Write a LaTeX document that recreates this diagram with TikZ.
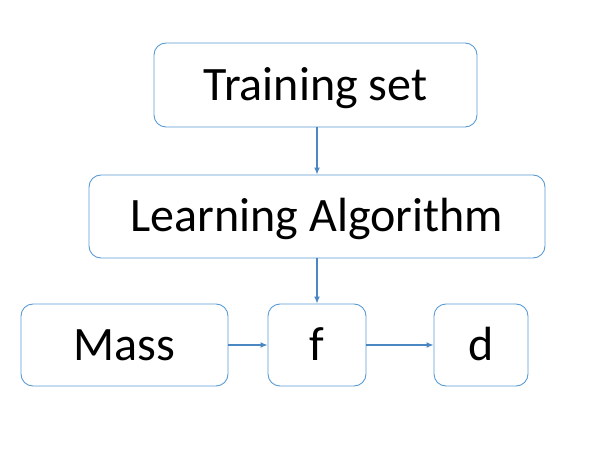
\documentclass[tikz,border=0pt]{standalone}
\usepackage{fontspec}
\setmainfont{Carlito}
\usepackage{tikz}
\usetikzlibrary{arrows.meta}
\definecolor{boxline}{RGB}{91,155,213}
\definecolor{linkline}{RGB}{75,135,195}

\begin{document}
\begin{tikzpicture}[x=1pt,y=-1pt,
   box/.style={draw=boxline,line width=0.9pt,rounded corners=12pt,inner sep=0pt,
     font=\fontsize{48}{52}\selectfont,text height=34pt,text depth=3pt},
   link/.style={draw=linkline,line width=1.3pt,-{Latex[length=7pt,width=6pt]}}]
\useasboundingbox (0,0) rectangle (608,449);
\node[box,minimum width=323pt,minimum height=84pt] (train) at (315.5,85) {Training set};
\node[box,minimum width=456pt,minimum height=83pt] (learn) at (317,216.5) {Learning Algorithm};
\node[box,minimum width=207pt,minimum height=82pt] (mass) at (124.5,345) {Mass};
\node[box,minimum width=98pt,minimum height=82pt] (hyp) at (317,345) {f};
\node[box,minimum width=94pt,minimum height=82pt] (out) at (481,345) {d};
\draw[link] (train.south -| hyp) -- (learn.north -| hyp);
\draw[link] (learn.south -| hyp) -- (hyp.north);
\draw[link] (mass) -- (hyp);
\draw[link] (hyp) -- (out);
\end{tikzpicture}
\end{document}
